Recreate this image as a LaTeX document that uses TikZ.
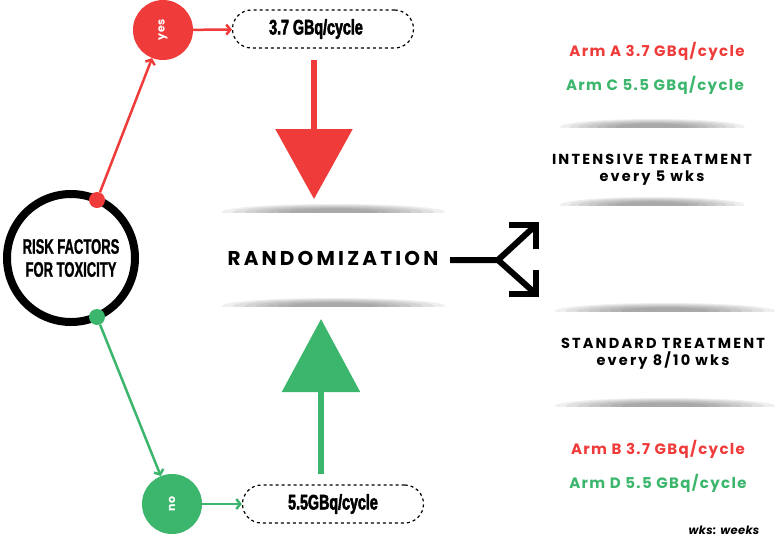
\documentclass[tikz,border=0pt]{standalone}
\usepackage{fontspec}
\usetikzlibrary{arrows.meta}
\newfontfamily\condfont[FakeStretch=0.68,FakeBold=2.5]{Liberation Sans Bold}
\newfontfamily\riskfont[FakeStretch=0.62,FakeBold=1.2]{Liberation Sans Bold}
\newfontfamily\popA[LetterSpace=9]{Poppins}
\newfontfamily\popT[LetterSpace=15]{Poppins}
\newfontfamily\popB[LetterSpace=16]{Poppins}
\newfontfamily\popC[LetterSpace=3]{Poppins}
\definecolor{rred}{HTML}{EF3B3A}
\definecolor{ggreen}{HTML}{3BB66C}
\newcommand\shline[3]{%
  \begin{scope}
    \clip (#1,#3) rectangle (#2,#3-12);
    \foreach \s in {1,0.9,...,0.3}{
      \fill[black!70,opacity=0.09] ({(#1+#2)/2},#3) ellipse [x radius={\s*(#2-#1)/2}, y radius={8*\s}];
    }
  \end{scope}}
\begin{document}
\begin{tikzpicture}[x=1pt,y=-1pt,
  dotr/.style={circle,fill=rred,minimum size=16pt,inner sep=0pt},
  dotg/.style={circle,fill=ggreen,minimum size=16pt,inner sep=0pt},
  yesno/.style={circle,minimum size=60pt,inner sep=0pt,text=white,font=\popC\bfseries\fontsize{11}{11}\selectfont},
  dose/.style={draw,dashed,line width=1.2pt,rounded corners=19pt,minimum width=181pt,minimum height=38pt,font=\condfont\fontsize{21}{21}\selectfont},
  conn/.style={line width=2.5pt,-{Straight Barb[length=4pt,width=10pt]}},
  armtxt/.style={font=\popA\bfseries\fontsize{15}{15}\selectfont},
  trt/.style={font=\popT\bfseries\fontsize{14.5}{17}\selectfont,align=center}]
\useasboundingbox (0,0) rectangle (781,539);
% risk factor circle
\node[circle,draw,line width=8pt,minimum size=128pt,inner sep=0pt,align=center,
  font=\riskfont\fontsize{21}{23}\selectfont] (risk) at (71,258) {RISK FACTORS\\FOR TOXICITY};
\node[dotr] (rdot) at (97,200) {};
\node[dotg] (gdot) at (97,317) {};
% yes / no
\node[yesno,fill=rred] (yes) at (163,30) {\rotatebox{90}{yes}};
\node[yesno,fill=ggreen] (no) at (172,504) {\rotatebox{90}{no}};
\node[dose] (d37) at (323,29) {3.7 GBq/cycle\hspace*{14pt}};
\node[dose] (d55) at (333,504) {5.5GBq/cycle};
\draw[conn,rred] (rdot) -- (yes);
\draw[conn,rred] (yes) -- (d37);
\draw[conn,ggreen] (gdot) -- (no);
\draw[conn,ggreen] (no) -- (d55);
% big arrows
\coordinate (rs) at (314,60);
\coordinate (rt) at (314,199);
\coordinate (gs) at (321,474);
\coordinate (gt) at (321,319);
\draw[rred,line width=6pt,-{Triangle[length=70pt 0 0,width=76pt 0 0]}] (rs) -- (rt);
\draw[ggreen,line width=6pt,-{Triangle[length=73pt 0 0,width=77pt 0 0]}] (gs) -- (gt);
% randomization
\shline{222}{445}{212}
\shline{222}{445}{306}
\node[font=\popB\bfseries\fontsize{20}{20}\selectfont] (rand) at (333,258) {RANDOMIZATION};
% fork
\coordinate (fs) at (450,260);
\coordinate (fm) at (498,260);
\coordinate (fa) at (536,225);
\coordinate (fb) at (536,294);
\draw[line width=6pt] (fs) -- (fm) -- (fa);
\draw[line width=6pt] (fm) -- (fb);
\draw[line width=6pt,miter limit=10] ([xshift=-27pt]fa) -- (fa) -- ([yshift=-24pt]fa);
\draw[line width=6pt,miter limit=10] ([xshift=-27pt]fb) -- (fb) -- ([yshift=24pt]fb);
% right side
\node[armtxt,text=rred] (armA) at (657,51) {Arm A 3.7 GBq/cycle};
\node[armtxt,text=ggreen] (armC) at (655,85) {Arm C 5.5 GBq/cycle};
\shline{560}{745}{127}
\node[trt] (int) at (652,170) {INTENSIVE TREATMENT\\every 5 wks};
\shline{560}{745}{205}
\shline{555}{775}{311}
\node[trt] (std) at (663,354) {STANDARD TREATMENT\\every 8/10 wks};
\shline{555}{775}{406}
\node[armtxt,text=rred] (armB) at (658,449) {Arm B 3.7 GBq/cycle};
\node[armtxt,text=ggreen] (armD) at (658,483) {Arm D 5.5 GBq/cycle};
\node[font=\popC\bfseries\itshape\fontsize{11.5}{11.5}\selectfont,inner sep=1pt] (wks) at (724,530) {wks: weeks};
\end{tikzpicture}
\end{document}
